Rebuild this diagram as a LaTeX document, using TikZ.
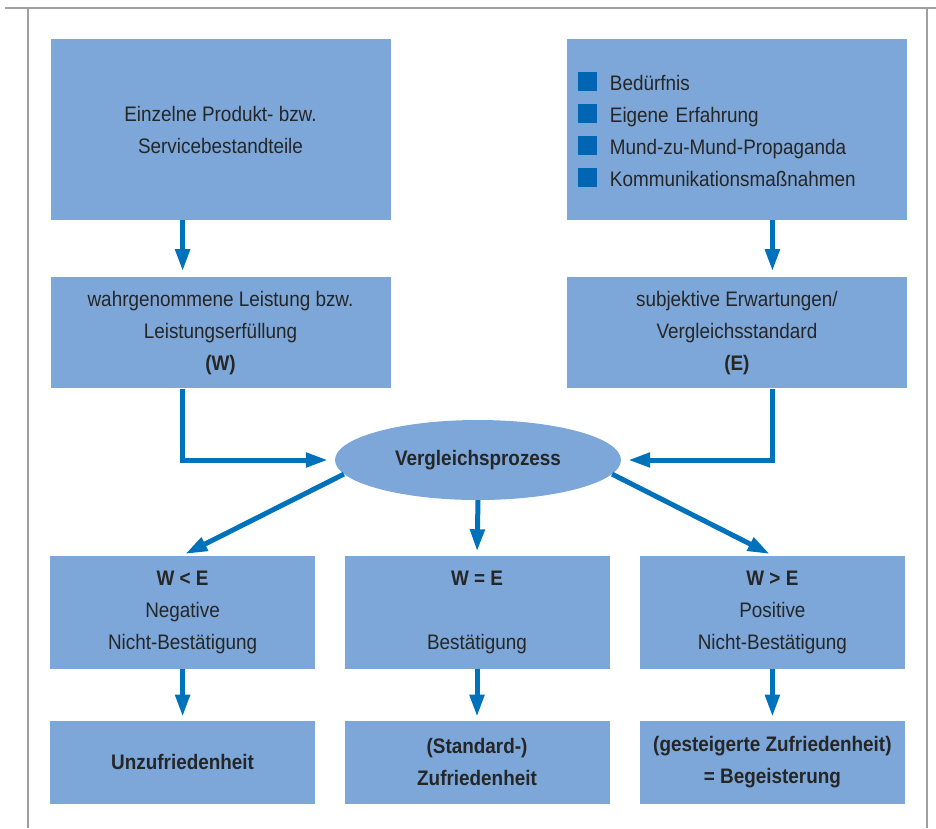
\documentclass[tikz,border=0pt]{standalone}
\usepackage{fontspec}
\setmainfont{Liberation Sans}[FakeStretch=0.9]
\usepackage{tikz}
\usetikzlibrary{shapes.geometric, arrows.meta, positioning, calc}

\definecolor{boxblue}{HTML}{7DA7D9}
\definecolor{arrowblue}{HTML}{0072BC}
\definecolor{bulletblue}{HTML}{0066B3}
\newcommand{\bsq}{\textcolor{bulletblue}{\rule[-1pt]{19pt}{19pt}}\hspace{13pt}}

\begin{document}
\begin{tikzpicture}[
  x=1pt, y=-1pt,
  node distance=57pt and 176pt,
  box/.style={rectangle, fill=boxblue, text=black!85, align=center, inner sep=0pt,
    font=\fontsize{21}{32}\selectfont},
  bigbox/.style={box, minimum width=340pt, minimum height=181pt},
  midbox/.style={box, minimum width=340pt, minimum height=111pt},
  resbox/.style={box, minimum width=265pt, minimum height=113pt},
  endbox/.style={box, minimum width=265pt, minimum height=83pt},
  oval/.style={ellipse, fill=boxblue, text=black!85, minimum width=286pt, minimum height=80pt,
    inner sep=0pt, font=\fontsize{21}{32}\selectfont\bfseries},
  arrow/.style={-{Triangle[length=22pt, width=14pt]}, line width=5pt, draw=arrowblue},
  frame/.style={draw=gray!75, line width=2pt}
]
\useasboundingbox (0,0) rectangle (936,828);

% Frame
\draw[frame] (5,8) -- (936,8);
\draw[frame] (28,8) -- (28,828);
\draw[frame] (927,8) -- (927,828);

% Main Flow
\node[bigbox] (teile) at (220.5,129.5) {Einzelne Produkt- bzw.\\Servicebestandteile};
\node[bigbox, right=of teile, text width=318pt, align=left] (quellen)
  {\bsq Bedürfnis\\\bsq Eigene Erfahrung\\\bsq Mund-zu-Mund-Propaganda\\\bsq Kommunikationsmaßnahmen};
\node[midbox, below=of teile] (leistung) {wahrgenommene Leistung bzw.\\Leistungserfüllung\\\textbf{(W)}};
\node[midbox, below=of quellen] (erwartung) {subjektive Erwartungen/\\Vergleichsstandard\\\textbf{(E)}};
\node[oval] (vergleich) at (478,460) {Vergleichsprozess};

% Results
\node[resbox] (gleich) at (477,612) {\textbf{W = E}\\[32pt]Bestätigung};
\node[resbox, left=29pt of gleich] (negativ) {\textbf{W < E}\\Negative\\Nicht-Bestätigung};
\node[resbox, right=30pt of gleich] (positiv) {\textbf{W > E}\\Positive\\Nicht-Bestätigung};
\node[endbox, below=52pt of negativ] (unzufrieden) {\textbf{Unzufriedenheit}};
\node[endbox, below=52pt of gleich] (zufrieden) {\textbf{(Standard-)}\\\textbf{Zufriedenheit}};
\node[endbox, below=52pt of positiv] (begeistert) {\textbf{(gesteigerte Zufriedenheit)}\\\textbf{= Begeisterung}};

% Connections
\draw[arrow, shorten >=6pt] (teile.south -| negativ) -- (leistung.north -| negativ);
\draw[arrow, shorten >=6pt] (quellen.south -| positiv) -- (erwartung.north -| positiv);
\draw[arrow, shorten >=7pt] (leistung.south -| negativ) |- (vergleich.west);
\draw[arrow, shorten >=7pt] (erwartung.south -| positiv) |- (vergleich.east);
\draw[arrow, shorten >=3pt] (vergleich.186) -- (negativ.north);
\draw[arrow, shorten >=4pt] (vergleich.south) -- (gleich.north);
\draw[arrow, shorten >=3pt] (vergleich.354) -- (positiv.north);
\draw[arrow, shorten >=4pt] (negativ) -- (unzufrieden);
\draw[arrow, shorten >=4pt] (gleich) -- (zufrieden);
\draw[arrow, shorten >=4pt] (positiv) -- (begeistert);

\end{tikzpicture}
\end{document}
